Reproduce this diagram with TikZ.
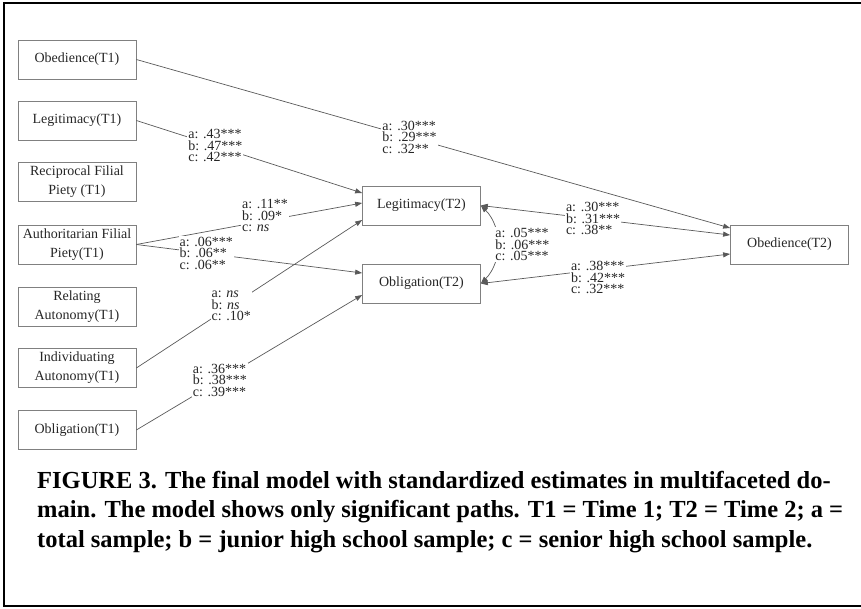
\documentclass[tikz,border=0pt]{standalone}
\usepackage{fontspec}
\setmainfont{Liberation Serif}
\usetikzlibrary{arrows.meta}
\tikzset{
  var/.style={draw=black!50, line width=0.7pt, minimum width=118pt, minimum height=39pt, inner sep=1pt, align=center, font=\fontsize{14}{19}\selectfont, text=black!85},
  est/.style={fill=white, inner sep=1pt, align=left, font=\fontsize{14}{11.5}\selectfont, text=black!85},
  reg/.style={draw=black!65, line width=0.7pt, -{Triangle[length=7pt,width=5pt]}},
  cov/.style={reg, {Triangle[length=7pt,width=5pt]}-{Triangle[length=7pt,width=5pt]}}
}
\begin{document}
\begin{tikzpicture}[x=1pt,y=-1pt]
\useasboundingbox (0,0) rectangle (861,609);
\draw[line width=2pt] (861,3) -- (4,3) -- (4,606) -- (861,606);
\node[var] (obe1) at (77,59.5) {Obedience(T1)}; \node[var] (leg1) at (77,120.5) {Legitimacy(T1)};
\node[var] (rfp1) at (77,182) {Reciprocal Filial\\Piety (T1)}; \node[var] (afp1) at (77,244.5) {Authoritarian Filial\\Piety(T1)};
\node[var] (rel1) at (77,307) {Relating\\Autonomy(T1)}; \node[var] (ind1) at (77,368) {Individuating\\Autonomy(T1)};
\node[var] (obl1) at (77,430) {Obligation(T1)};
\node[var] (leg2) at (421.5,205.5) {Legitimacy(T2)}; \node[var] (obl2) at (421.5,283.5) {Obligation(T2)};
\node[var] (obe2) at (789.5,244.5) {Obedience(T2)};
\draw[reg] (obe1.east) -- node[est,pos=.46] {a: .30***\\b: .29***\\c: .32**} ([yshift=16.5pt]obe2.west);
\draw[reg] (leg1.east) -- node[est,pos=.35] {a: .43***\\b: .47***\\c: .42***} ([yshift=12.5pt]leg2.west);
\draw[reg] (afp1.east) -- node[est,pos=.57,yshift=5pt] {a: .11**\\b: .09*\\c: \textit{ns}} ([yshift=2.5pt]leg2.west);
\draw[reg] (afp1.east) -- node[est,pos=.31] {a: .06***\\b: .06**\\c: .06**} ([yshift=10.5pt]obl2.west);
\draw[reg] (ind1.east) -- node[est,pos=.42] {a: \textit{ns}\\b: \textit{ns}\\c: .10*} ([yshift=-14.5pt]leg2.west);
\draw[reg] (obl1.east) -- node[est,pos=.37] {a: .36***\\b: .38***\\c: .39***} ([yshift=-11.5pt]obl2.west);
\draw[cov] (leg2.east) -- node[est,pos=.45] {a: .30***\\b: .31***\\c: .38**} ([yshift=9.5pt]obe2.west);
\draw[cov] (obl2.east) -- node[est,pos=.47,yshift=-8pt] {a: .38***\\b: .42***\\c: .32***} ([yshift=-9.5pt]obe2.west);
\draw[cov] (leg2.east) to[bend left=45] node[est,pos=.5,anchor=west,xshift=-3pt] {a: .05***\\b: .06***\\c: .05***} (obl2.east);
\node[anchor=north west, inner sep=0pt, align=left, font=\bfseries\fontsize{24.5}{29.5}\selectfont] (cap) at (37,471) {FIGURE 3. The final model with standardized estimates in multifaceted do-\\main. The model shows only significant paths. T1 = Time 1; T2 = Time 2; a =\\total sample; b = junior high school sample; c = senior high school sample.};
\end{tikzpicture}
\end{document}
